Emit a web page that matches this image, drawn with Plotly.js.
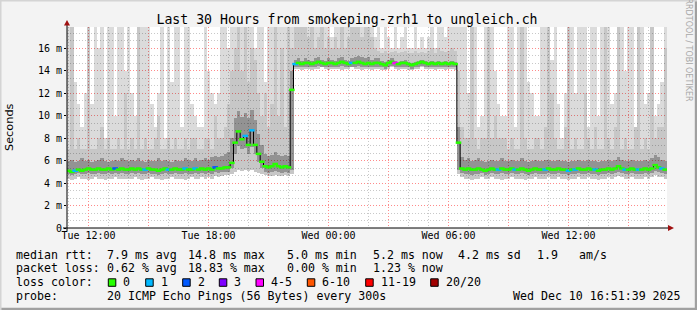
<!DOCTYPE html>
<html><head><meta charset="utf-8">
<script src="https://cdn.plot.ly/plotly-3.0.1.min.js"></script>
<style>html,body{margin:0;padding:0;background:#f3f3f3;}#chart{width:697px;height:310px;}</style>
</head><body><div id="chart"></div>
<script>
// 10-minute bins starting Tue 2025-12-09 11:00
const binStart = [2025, 11, 9, 11, 0];
const binMinutes = 10;

const median = [
5.1,5.0,5.1,5.2,5.1,5.2,5.3,5.2,5.2,5.3,5.2,5.2,5.3,5.2,5.3,5.2,5.3,5.2,
5.2,5.3,5.2,5.3,5.2,5.2,5.3,5.2,5.2,5.1,5.2,5.3,5.2,5.2,5.3,5.2,5.2,5.3,
5.2,5.2,5.3,5.2,5.3,5.2,5.3,5.2,5.4,5.3,5.3,5.4,5.4,5.8,7.6,8.6,7.9,8.2,
7.4,8.7,7.4,6.6,5.9,5.5,5.4,5.5,5.7,5.5,5.4,5.5,5.4,12.3,14.6,14.7,14.6,14.7,
14.7,14.6,14.7,14.8,14.7,14.6,14.7,14.7,14.6,14.7,14.8,14.7,14.6,14.7,14.7,14.8,14.7,14.6,
14.7,14.6,14.7,14.7,14.6,14.5,14.7,14.8,14.7,14.6,14.7,14.7,14.6,14.5,14.6,14.7,14.8,14.7,
14.6,14.7,14.6,14.7,14.6,14.7,14.6,14.7,14.6,7.6,5.3,5.2,5.3,5.2,5.2,5.3,5.2,5.1,
5.2,5.3,5.2,5.2,5.3,5.2,5.2,5.3,5.2,5.2,5.3,5.2,5.1,5.2,5.3,5.2,5.2,5.2,
5.3,5.2,5.2,5.3,5.2,5.2,5.1,5.2,5.2,5.3,5.2,5.2,5.3,5.2,5.2,5.1,5.2,5.2,
5.3,5.2,5.3,5.5,5.3,5.2,5.2,5.3,5.2,5.2,5.2,5.3,5.2,5.3,5.6,5.4,5.3,5.2];

// lost pings category per bin (index into lossColors)
const loss = [
0,0,1,0,0,0,0,0,0,0,0,0,0,0,2,0,0,0,
0,0,0,0,0,1,0,0,0,0,0,0,1,0,0,0,0,1,
0,0,1,0,0,0,0,0,2,0,0,0,0,0,0,0,0,1,
0,1,0,0,0,0,0,0,0,0,0,0,0,0,1,0,0,0,
0,0,0,0,0,0,0,0,0,0,0,0,0,1,0,0,0,0,
0,0,0,0,0,0,0,0,4,0,0,0,0,0,0,0,0,0,
0,0,0,0,0,0,0,0,0,0,0,0,0,0,0,0,0,0,
0,0,0,1,0,0,0,0,1,0,0,0,0,0,0,0,0,1,
0,0,0,0,0,0,1,0,1,0,0,0,0,0,1,0,0,0,
0,0,0,0,0,1,0,0,0,1,0,0,0,0,0,0,1,0];

// smoke: minimum ping
const smokeMin = [
4.4,4.3,4.4,4.5,4.4,4.4,4.3,4.4,4.5,4.4,4.4,4.3,4.4,4.4,4.5,4.4,4.4,4.4,
4.4,4.4,4.5,4.4,4.3,4.4,4.4,4.5,4.4,4.4,4.3,4.4,4.4,4.5,4.4,4.4,4.4,4.3,
4.4,4.5,4.4,4.4,4.5,4.4,4.5,4.4,4.6,4.5,4.6,4.7,4.7,4.8,5.0,5.2,5.1,5.2,
5.1,5.2,5.0,4.9,4.8,4.7,4.6,4.6,4.7,4.6,4.6,4.7,4.6,4.8,14.2,14.2,14.1,14.2,
14.2,14.1,14.2,14.2,14.3,14.2,14.1,14.2,14.2,14.2,14.1,14.2,14.2,14.3,14.2,14.2,14.1,14.2,
14.2,14.1,14.2,14.2,14.1,14.1,14.2,14.3,14.2,14.1,14.2,14.2,14.1,14.1,14.2,14.2,14.3,14.2,
14.2,14.2,14.1,14.2,14.2,14.1,14.2,14.2,14.1,4.8,4.5,4.4,4.4,4.3,4.4,4.4,4.5,4.4,
4.4,4.5,4.4,4.4,4.3,4.4,4.4,4.5,4.4,4.4,4.4,4.3,4.4,4.4,4.5,4.4,4.4,4.4,
4.5,4.4,4.4,4.5,4.4,4.4,4.3,4.4,4.4,4.5,4.4,4.4,4.5,4.4,4.4,4.3,4.4,4.4,
4.5,4.4,4.5,4.6,4.5,4.4,4.4,4.5,4.4,4.4,4.4,4.5,4.4,4.5,4.7,4.5,4.5,4.4];

// smoke: dark core bottom
const smokeCoreLo = [
4.8,4.7,4.8,4.9,4.8,4.8,4.9,4.8,4.8,4.9,4.8,4.8,4.9,4.8,4.9,4.8,4.9,4.8,
4.8,4.9,4.8,4.9,4.8,4.8,4.9,4.8,4.8,4.7,4.8,4.9,4.8,4.8,4.9,4.8,4.8,4.9,
4.8,4.8,4.9,4.8,4.9,4.8,4.9,4.8,5.0,4.9,5.0,5.0,5.0,5.3,6.6,7.3,7.0,7.1,
6.6,7.2,6.6,5.9,5.3,5.0,4.9,5.0,5.1,5.0,4.9,5.0,4.9,5.2,14.3,14.3,14.3,14.3,
14.3,14.3,14.3,14.4,14.3,14.3,14.3,14.3,14.3,14.3,14.4,14.3,14.3,14.3,14.3,14.4,14.3,14.3,
14.3,14.3,14.3,14.3,14.3,14.2,14.3,14.4,14.3,14.3,14.3,14.3,14.3,14.2,14.3,14.3,14.4,14.3,
14.3,14.3,14.3,14.3,14.3,14.3,14.3,14.3,14.3,5.2,4.9,4.8,4.8,4.7,4.8,4.8,4.9,4.7,
4.8,4.9,4.8,4.8,4.9,4.8,4.8,4.9,4.8,4.8,4.9,4.8,4.7,4.8,4.9,4.8,4.8,4.8,
4.9,4.8,4.8,4.9,4.8,4.8,4.7,4.8,4.8,4.9,4.8,4.8,4.9,4.8,4.8,4.7,4.8,4.8,
4.9,4.8,4.9,5.0,4.9,4.8,4.8,4.9,4.8,4.8,4.8,4.9,4.8,4.9,5.1,5.0,4.9,4.8];

// smoke: dark core top
const smokeCoreHi = [
6.0,6.1,5.9,6.0,6.2,6.0,6.1,5.9,6.0,6.1,6.2,6.0,5.9,6.0,6.1,6.0,6.2,6.1,
6.0,6.1,6.0,6.2,6.0,5.9,6.1,6.0,6.0,6.2,6.0,6.1,6.0,5.9,6.1,6.0,6.0,6.2,
6.1,6.0,6.2,6.0,6.1,6.2,6.1,6.3,6.4,6.3,6.4,6.6,6.8,8.0,9.8,10.4,9.9,10.2,
9.8,10.5,9.6,8.4,7.4,6.6,6.4,6.5,6.8,6.5,6.4,6.5,6.4,14.0,15.0,15.1,14.9,15.1,
15.0,14.9,15.1,15.2,15.0,14.9,15.1,15.0,14.9,15.1,15.2,15.0,14.9,15.1,15.2,15.3,15.2,15.1,
15.2,15.0,15.1,15.1,14.9,14.8,15.0,15.1,14.9,14.8,14.9,15.0,14.8,14.7,14.8,14.9,15.0,14.9,
14.8,14.9,14.8,14.9,14.8,14.9,14.8,14.9,14.8,9.0,6.3,6.1,6.2,6.0,6.1,6.2,6.0,5.9,
6.0,6.1,6.0,6.0,6.2,6.0,6.0,6.1,6.0,6.0,6.2,6.0,5.9,6.0,6.1,6.0,6.0,6.1,
6.1,6.0,6.0,6.1,6.0,6.0,5.9,6.0,6.0,6.1,6.0,6.0,6.1,6.0,6.0,5.9,6.0,6.0,
6.1,6.0,6.1,6.3,6.1,6.0,6.0,6.1,6.0,6.0,6.0,6.1,6.0,6.2,6.5,6.3,6.1,6.0];

// smoke: medium grey top
const smokeMid = [
7,18,7,8,7,7,18,7,7,8,9,7,8,7,7,8,7,12,
7,8,7,18,7,8,7,7,8,10,7,7,8,7,8,7,7,8,
7,8,8,7,7,8,8,7,10,8,8,9,11,14,16,18,14,18,
13,16,15,12,10,12,9,11,18,10,16,9,18,16,18,18,18,18,
17,18,16,17,18,16,17,16,17,16,18,16,17,18,18,18,17,18,
18,17,16,15.8,15.6,15.8,15.6,15.7,15.8,15.6,15.7,15.8,15.6,15.6,15.8,15.6,15.7,15.6,
15.8,16,15.6,16,15.8,15.7,15.8,16,15.8,14,9,8,8,18,8,7,8,8,
18,8,10,8,8,8,7,8,7,7,18,8,7,7,8,8,7,9,
18,12,8,7,7,9,18,7,8,7,7,12,8,7,9,7,7,18,
8,7,9,18,7,8,7,7,9,18,7,8,7,18,8,9,9,16];

// smoke: maximum ping (18 = beyond the top of the graph)
const smokeMax = [
18,18,13,11,9,12,18,11,18,16,18,8,18,18,10,18,18,14,
18,12,10,18,18,18,18,11,9,12,18,8,18,13,18,18,9,18,
18,11,10,9,9,18,14,12,11,12,18,18,16,18,18,18,18,18,
18,18,16,18,18,13,18,18,18,18,18,18,18,18,18,18,18,18,
18,18,18,18,18,18,18,17,18,18,18,18,18,18,18,18,18,18,
18,18,17,18,16,18,17,16,18,16,17,18,16,16,18,16,17,16,
17,18,16,18,18,17,18,18,18,18,18,18,12,18,18,9,10,18,
18,18,14,11,10,10,18,18,9,18,18,18,13,12,10,10,18,18,
18,15,18,11,8,12,18,18,12,18,18,18,9,18,18,10,18,18,
18,11,12,18,18,14,18,18,9,18,18,11,12,18,10,11,13,18];

const lossLabels = ['0','1','2','3','4-5','6-10','11-19','20/20'];
const lossColors = ['#26ff00','#00b8ff','#0059ff','#7e00ff','#ff00ff','#ff5500','#ff0000','#a10000'];

const xTickVals = ['2025-12-09 12:00','2025-12-09 15:00','2025-12-09 18:00','2025-12-09 21:00',
  '2025-12-10 00:00','2025-12-10 03:00','2025-12-10 06:00','2025-12-10 09:00','2025-12-10 12:00','2025-12-10 15:00'];
const xTickText = ['Tue 12:00','','Tue 18:00','','Wed 00:00','','Wed 06:00','','Wed 12:00',''];
const yTickVals = [0,2,4,6,8,10,12,14,16];
const yTickText = ['0','2 m','4 m','6 m','8 m','10 m','12 m','14 m','16 m'];

const legendRows = [
  [['median rtt:',16],['7.9 ms avg',107.3],['14.8 ms max',188.3],['5.0 ms min',286.7],['5.2 ms now',372.7],['4.2 ms sd',458.3],['1.9',537.3],['am/s',579.3]],
  [['packet loss:',16],['0.62 % avg',107.3],['18.83 % max',188.3],['0.00 % min',286.7],['1.23 % now',372.7]],
  [['loss color:',16]],
  [['probe:',16],['20 ICMP Echo Pings (56 Bytes) every 300s',107.3],['Wed Dec 10 16:51:39 2025',513.3]]
];
const legendRowY = [254.7, 268.3, 282.3, 296];
const lossBoxX = [108.3,145.7,182.7,219.3,256,307.3,365.7,430.7];

// ---------- build ----------
function pad(n){return String(n).padStart(2,'0');}
function fmt(d){return d.getFullYear()+'-'+pad(d.getMonth()+1)+'-'+pad(d.getDate())+' '+pad(d.getHours())+':'+pad(d.getMinutes())+':00';}
const t0 = new Date(binStart[0],binStart[1],binStart[2],binStart[3],binStart[4],0).getTime();
const times = median.map((_,i)=>fmt(new Date(t0 + i*binMinutes*60000)));
const binW = binMinutes*60000;

const MONO = "'DejaVu Sans Mono', monospace";
const L=67, T=27, W=600, H=201;
const X = px => (px-L)/W;
const Y = py => (T+H-py)/H;

function smokeBar(lo, hi, color){
  return {type:'bar', x:times, base:lo, y:hi.map((v,i)=>v-lo[i]), width:binW,
    marker:{color:color, line:{width:0}}, hoverinfo:'skip'};
}
const traces = [
  smokeBar(smokeMin, smokeMax, 'rgba(0,0,0,0.14)'),
  smokeBar(smokeMin, smokeMid, 'rgba(0,0,0,0.09)'),
  smokeBar(smokeCoreLo, smokeCoreHi, 'rgba(0,0,0,0.26)'),
  {type:'scatter', mode:'lines', x:times, y:median, line:{color:'#000', width:1, shape:'hvh'}, hoverinfo:'skip'},
  {type:'scatter', mode:'markers', x:times, y:median,
    marker:{symbol:'line-ew', size:4, line:{width:2.5, color:loss.map(k=>lossColors[k])}}, hoverinfo:'skip'}
];

const annotations = [];
legendRows.forEach((row,r)=>{
  row.forEach(([txt,px])=>{
    annotations.push({text:txt, x:X(px-1), y:Y(legendRowY[r]), xref:'paper', yref:'paper',
      xanchor:'left', yanchor:'middle', showarrow:false, borderpad:0,
      font:{family:MONO, size:11.6, color:'#000'}});
  });
});
const shapes = [];
lossLabels.forEach((lab,k)=>{
  const bx = lossBoxX[k];
  shapes.push({type:'rect', xref:'paper', yref:'paper', x0:X(bx), x1:X(bx+7.5), y0:Y(286.3), y1:Y(278.8),
    fillcolor:lossColors[k], line:{color:'#000', width:1}});
  annotations.push({text:lab, x:X(bx+14), y:Y(legendRowY[2]), xref:'paper', yref:'paper',
    xanchor:'left', yanchor:'middle', showarrow:false, borderpad:0, font:{family:MONO, size:11.6, color:'#000'}});
});
annotations.push({text:'Seconds', x:X(10), y:Y(127), xref:'paper', yref:'paper', textangle:-90,
  showarrow:false, xanchor:'center', yanchor:'middle', font:{family:"'DejaVu Sans', sans-serif", size:11.3, color:'#000'}});
annotations.push({text:'RRDTOOL / TOBI OETIKER', x:X(688.5), y:Y(50), xref:'paper', yref:'paper', textangle:90,
  showarrow:false, xanchor:'center', yanchor:'middle', font:{family:"'DejaVu Sans', sans-serif", size:8, color:'#a8a8a8'}});

// frame & axis arrows
shapes.push({type:'rect', xref:'paper', yref:'paper', x0:X(0), x1:X(697), y0:Y(310), y1:Y(307.8), fillcolor:'#a0a0a0', line:{width:0}, layer:'above'});
shapes.push({type:'rect', xref:'paper', yref:'paper', x0:X(694.8), x1:X(697), y0:Y(310), y1:Y(0), fillcolor:'#a0a0a0', line:{width:0}, layer:'above'});
shapes.push({type:'rect', xref:'paper', yref:'paper', x0:X(0), x1:X(697), y0:Y(1.5), y1:Y(0), fillcolor:'#d4d4d4', line:{width:0}});
shapes.push({type:'rect', xref:'paper', yref:'paper', x0:X(0), x1:X(1.5), y0:Y(310), y1:Y(0), fillcolor:'#d4d4d4', line:{width:0}});
shapes.push({type:'line', xref:'paper', yref:'paper', x0:X(67), x1:X(67), y0:Y(231), y1:Y(23), line:{color:'#000', width:1}});
shapes.push({type:'line', xref:'paper', yref:'paper', x0:X(63), x1:X(670), y0:Y(228), y1:Y(228), line:{color:'#000', width:1}});
shapes.push({type:'path', xref:'paper', yref:'paper',
  path:`M ${X(64)} ${Y(25.5)} L ${X(70)} ${Y(25.5)} L ${X(67)} ${Y(20)} Z`, fillcolor:'#a01010', line:{width:0}});
shapes.push({type:'path', xref:'paper', yref:'paper',
  path:`M ${X(668)} ${Y(225)} L ${X(668)} ${Y(231)} L ${X(674)} ${Y(228)} Z`, fillcolor:'#a01010', line:{width:0}});

const layout = {
  width:697, height:310,
  margin:{l:L, r:697-L-W, t:T, b:310-T-H, pad:0},
  paper_bgcolor:'#f3f3f3', plot_bgcolor:'#ffffff',
  showlegend:false, barmode:'overlay', bargap:0, hovermode:false,
  title:{text:'Last 30 Hours from smokeping-zrh1 to ungleich.ch', xref:'container', yref:'container',
    x:347/697, y:1-19/310, xanchor:'center', yanchor:'middle', font:{family:MONO, size:13.2, color:'#000'}},
  xaxis:{type:'date', range:['2025-12-09 10:55:30','2025-12-10 16:55:30'],
    tickmode:'array', tickvals:xTickVals, ticktext:xTickText,
    showgrid:true, gridcolor:'#ff8a8a', griddash:'1px,2px', gridwidth:1,
    minor:{dtick:3600000, tick0:'2025-12-09 12:00', showgrid:true, gridcolor:'#c8c8c8', griddash:'1px,2px', gridwidth:1},
    showline:false, zeroline:false, ticks:'', tickfont:{family:MONO, size:10, color:'#000'}, fixedrange:true},
  yaxis:{range:[0,17.9], tickmode:'array', tickvals:yTickVals, ticktext:yTickText,
    showgrid:true, gridcolor:'#ff8a8a', griddash:'1px,2px', gridwidth:1,
    minor:{dtick:2/3, tick0:0, showgrid:true, gridcolor:'#c8c8c8', griddash:'1px,2px', gridwidth:1},
    showline:false, zeroline:false, ticks:'outside', ticklen:2, tickcolor:'#000',
    tickfont:{family:MONO, size:10, color:'#000'}, fixedrange:true},
  annotations:annotations, shapes:shapes
};
Plotly.newPlot('chart', traces, layout, {staticPlot:true, displayModeBar:false});
</script></body></html>
